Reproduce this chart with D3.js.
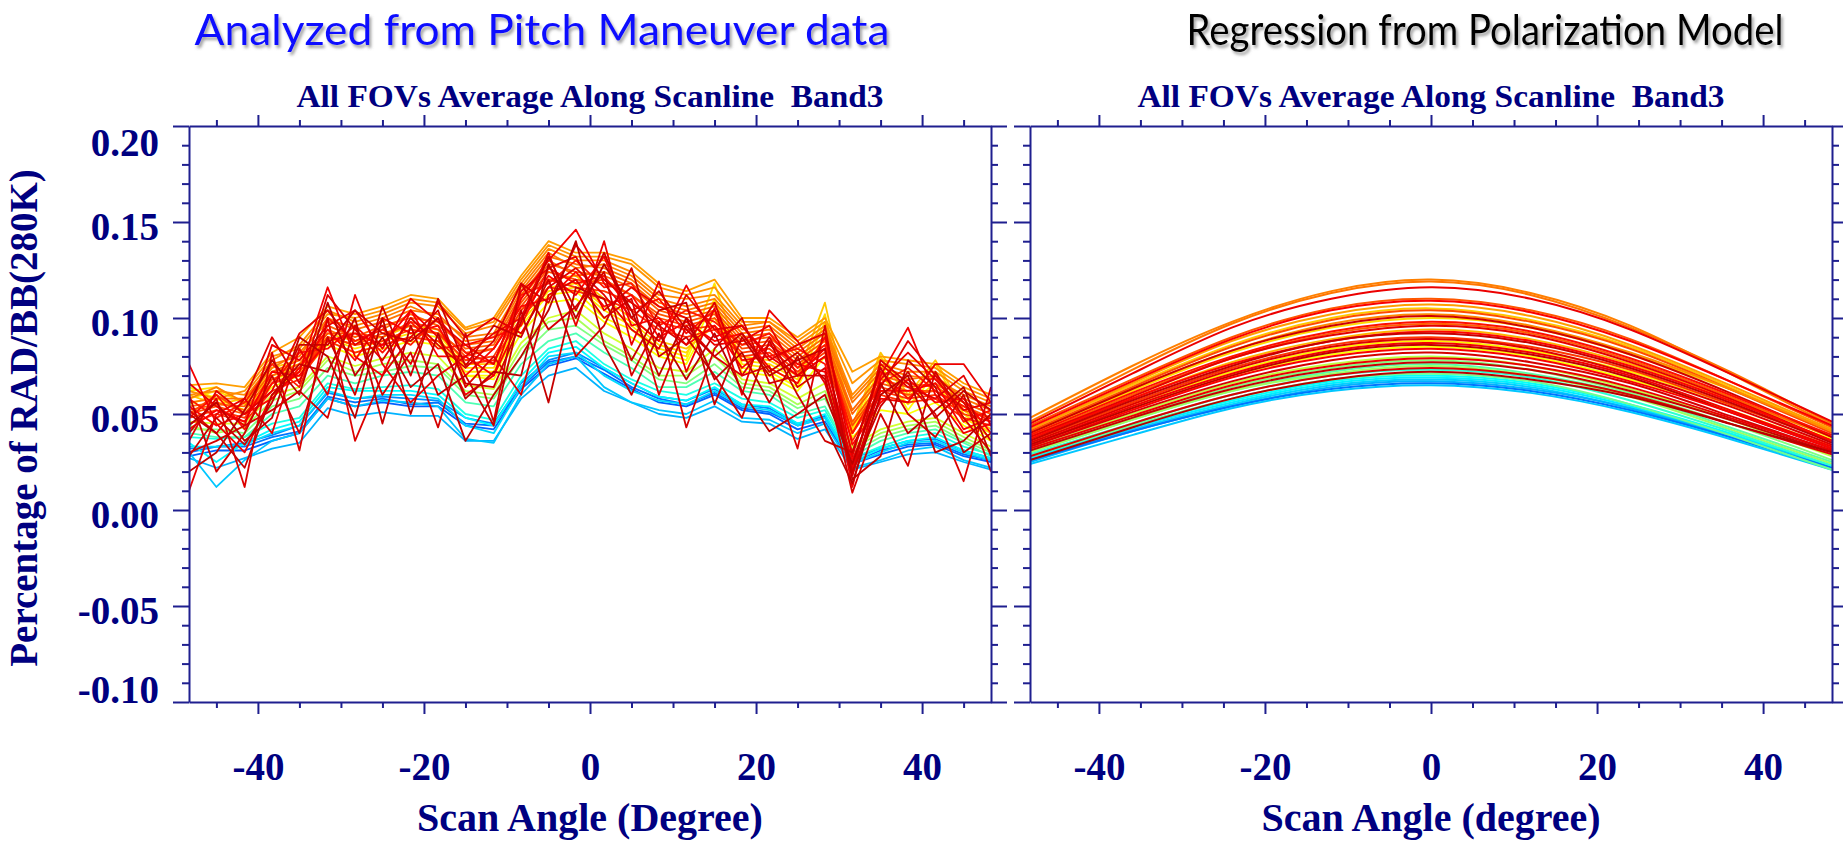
<!DOCTYPE html>
<html>
<head>
<meta charset="utf-8">
<script src="https://cdn.jsdelivr.net/npm/d3@7"></script>
<style>
  body { margin: 0; background: #fff; }
  svg text { font-family: "Liberation Serif", "DejaVu Serif", serif; font-weight: bold; fill: #000080; }
  .axis path, .axis line { stroke: #1f1f8f; stroke-width: 2; }
  .title { font-family: Lato, "Open Sans", sans-serif !important; font-weight: normal !important; }
</style>
</head>
<body>
<svg id="chart" width="1843" height="842"></svg>
<script>
// ---- data (values in units of 0.001) ----
const leftAngles = [-48.3, -45.0, -41.6, -38.3, -35.0, -31.6, -28.3, -25.0, -21.6, -18.3, -15.0, -11.6, -8.3, -5.0, -1.7,
                     1.7, 5.0, 8.3, 11.6, 15.0, 18.3, 21.6, 25.0, 28.3, 31.6, 35.0, 38.3, 41.6, 45.0, 48.3];

const leftBlueT = [0.22, 0.24, 0.26];
const leftBlue = [
  [28,31,31,36,40,58,54,56,54,54,44,42,63,75,79,71,63,56,54,60,52,50,42,46,24,29,33,34,28,25],
  [30,33,33,38,41,59,56,58,55,56,45,44,64,77,80,73,64,58,55,61,53,51,44,48,25,31,34,35,29,26],
  [32,33,35,39,44,61,58,59,58,57,48,45,66,78,82,74,66,59,57,63,55,53,45,49,27,32,36,37,31,27]
];
const leftCyanT = [0.3, 0.32, 0.34, 0.37, 0.4];
const leftCyan = [
  [27,22,27,32,35,53,49,51,49,49,36,36,58,70,74,62,56,50,48,54,46,45,37,42,21,25,29,30,25,21],
  [30,12,26,36,40,58,54,57,56,54,37,35,60,76,80,64,56,52,50,57,48,47,40,45,22,26,31,33,26,22],
  [33,33,34,40,44,62,58,60,60,58,44,40,64,80,82,70,62,57,55,62,54,52,44,48,24,30,35,36,30,26],
  [35,25,35,42,46,64,62,62,62,60,48,44,67,82,85,74,66,59,57,64,55,54,45,50,25,32,36,38,31,27],
  [38,37,38,45,48,66,63,64,65,63,50,47,70,84,88,76,68,62,60,66,58,56,48,52,27,33,38,40,33,29]
];
const leftGreenT = [0.45, 0.5, 0.54, 0.58];
const leftGreen = [
  [40,38,38,50,54,70,66,70,72,70,56,54,76,88,92,82,74,64,64,72,62,60,50,54,28,36,40,42,35,28],
  [42,42,40,54,58,74,70,72,75,74,60,58,80,94,96,86,78,68,66,76,64,62,53,58,30,38,42,44,36,30],
  [44,40,43,57,62,78,72,76,78,76,62,60,84,98,100,88,80,70,70,80,66,64,55,62,32,40,44,46,38,31],
  [46,45,45,60,64,80,75,79,82,80,65,63,87,100,104,92,84,74,72,84,68,66,58,66,33,42,46,48,40,33]
];
const leftYellowT = [0.62, 0.63, 0.65, 0.66, 0.68];
const leftYellow = [
  [55,60,50,64,70,86,80,84,88,86,70,68,92,108,110,98,90,80,76,104,72,70,62,80,38,52,50,56,44,36],
  [64,58,52,68,72,88,82,86,90,88,70,70,96,112,114,100,94,82,78,110,74,72,64,92,40,76,52,72,46,38],
  [62,64,55,70,74,90,84,88,92,90,72,72,98,114,116,104,96,84,80,118,76,74,66,98,40,70,55,66,48,40],
  [58,62,56,72,76,90,86,88,94,92,74,74,100,116,118,106,98,86,82,100,78,76,68,102,42,80,58,76,50,40],
  [60,55,58,74,78,92,88,90,96,94,76,76,104,120,122,110,100,88,84,96,80,78,70,108,44,82,60,78,52,42]
];
const leftOrangeT = [0.72, 0.73, 0.74, 0.75, 0.76, 0.77, 0.78, 0.79, 0.8, 0.82, 0.83];
const leftOrange = [
  [65,66,64,82,90,106,102,106,112,110,95,100,122,140,134,134,130,118,114,120,100,100,90,100,72,80,78,76,66,60],
  [62,58,62,80,84,102,100,104,110,108,94,98,120,138,132,132,128,116,112,116,98,98,88,98,66,78,76,74,64,58],
  [60,62,60,78,86,104,98,102,108,106,92,96,118,136,130,130,124,112,110,112,96,98,86,96,60,76,72,72,62,56],
  [58,64,56,74,82,98,96,100,106,100,90,92,116,134,126,128,122,110,106,110,94,96,84,94,58,74,70,68,60,54],
  [56,58,58,76,80,100,94,98,104,102,88,90,114,132,128,126,120,108,104,108,92,94,82,92,56,72,68,70,58,52],
  [54,56,52,70,76,94,88,94,102,96,86,88,112,130,122,124,118,106,102,106,90,92,80,90,52,70,66,64,56,50],
  [52,55,54,72,78,96,90,96,100,98,84,86,110,128,124,122,116,104,100,104,88,90,78,88,50,68,64,66,56,50],
  [50,54,50,66,72,90,86,92,96,92,82,84,108,126,118,120,112,102,98,102,86,88,76,86,46,66,62,62,54,48],
  [50,60,50,68,74,92,92,90,98,94,80,84,106,124,120,118,112,100,96,100,84,86,74,84,44,64,60,62,52,48],
  [48,52,48,66,70,90,86,88,94,92,78,80,104,120,116,114,108,98,94,96,82,84,72,82,40,62,58,60,50,46],
  [45,50,46,62,68,88,82,86,90,88,76,78,100,116,114,110,104,94,90,94,80,82,70,80,36,60,56,58,48,44]
];
const leftRedOrangeT = [0.85, 0.86, 0.87, 0.88];
const leftRedOrange = [
  [58,48,56,76,64,100,88,94,86,100,82,76,112,118,130,116,118,96,104,98,86,92,74,86,40,66,74,62,54,46],
  [48,60,42,66,82,84,96,82,98,84,86,90,96,126,118,122,104,110,92,104,78,80,84,76,30,72,58,70,46,52],
  [54,44,50,58,74,94,78,100,92,96,70,84,106,110,124,106,112,90,98,88,92,74,66,90,34,56,68,56,58,40],
  [42,52,46,72,70,88,92,86,104,80,80,70,100,122,112,132,96,100,86,96,74,86,76,72,26,62,62,66,42,48]
];
const leftRedT = [0.89, 0.9, 0.9, 0.91, 0.92, 0.92, 0.93, 0.94, 0.94, 0.95, 0.96, 0.96];
const leftRed = [
  [76,45,30,60,72,116,80,70,104,90,60,70,110,130,146,118,100,88,117,90,96,80,70,84,12,70,95,60,40,45],
  [66,54,44,86,78,96,104,84,110,98,86,76,114,126,132,104,116,106,100,86,88,96,70,80,22,68,82,68,52,56],
  [10,50,58,40,84,60,112,76,56,70,80,92,100,134,96,140,86,119,72,105,60,104,88,66,20,58,56,76,76,56],
  [36,62,50,62,92,104,86,96,76,108,90,100,92,116,126,112,94,84,112,94,96,78,86,92,28,76,64,58,70,44],
  [40,58,12,82,31,100,36,70,90,104,64,80,60,112,120,100,110,60,96,80,70,75,32,96,18,78,66,50,15,64],
  [52,40,58,90,66,112,94,78,100,86,74,88,118,108,138,120,108,96,86,108,70,90,64,74,18,64,88,70,56,36],
  [30,36,44,52,62,48,96,60,82,43,92,46,118,94,106,124,70,98,43,84,100,66,70,70,9,50,23,72,48,30],
  [60,20,40,70,40,90,60,106,70,110,75,96,90,120,80,96,126,80,90,70,48,88,60,36,30,74,50,38,60,20],
  [28,48,34,56,86,86,104,92,88,100,66,64,98,132,104,134,100,114,94,80,92,72,82,68,20,54,72,48,62,52],
  [50,40,22,60,76,72,100,45,96,60,70,44,104,56,116,110,78,104,108,55,90,70,78,84,16,28,78,64,30,40],
  [20,30,52,78,60,108,70,90,64,76,36,60,80,104,140,86,60,92,68,92,62,41,50,60,24,66,40,52,64,28],
  [44,56,36,48,90,80,48,100,50,92,58,72,70,128,100,128,104,70,100,68,82,56,80,44,14,60,70,30,36,50]
];

const rightAngles = [-48.3, -36, -24, -12, 0, 12, 24, 36, 48.3];

const rightCyanT = [0.38, 0.36, 0.33, 0.3, 0.24, 0.32];
const rightCyan = [
  [28,44,57,67,70,66,55,40,23],
  [27,43,56,66,69,65,54,39,22],
  [26,42,55,65,68,64,53,39,22],
  [25,41,54,64,67,63,53,38,22],
  [26,41,54,63,66,62,52,38,22],
  [24,39,53,62,65,61,51,37,21]
];
const rightGreenT = [0.56, 0.5, 0.46, 0.53, 0.42, 0.48];
const rightGreen = [
  [32,50,66,76,80,75,63,47,28],
  [31,48,64,74,78,73,61,45,26],
  [30,47,62,72,76,71,60,43,25],
  [30,47,62,71,75,70,59,42,24],
  [29,45,60,70,73,69,57,41,23],
  [28,44,58,68,71,67,55,39,21]
];
const rightYellowT = [0.68, 0.66, 0.7, 0.64, 0.62];
const rightYellow = [
  [42,65,86,100,105,99,85,64,41],
  [39,62,82,95,100,95,81,63,42],
  [37,58,77,89,94,89,76,58,38],
  [35,55,72,84,88,83,72,55,37],
  [34,53,70,81,85,80,68,52,33]
];
const rightOrangeT = [0.75, 0.76, 0.79, 0.72, 0.8, 0.74, 0.78, 0.82];
const rightOrange = [
  [48,75,98,114,120,113,96,71,44],
  [46,73,97,113,119,112,95,72,45],
  [44,68,90,105,110,104,89,67,43],
  [42,66,88,102,107,101,86,65,42],
  [41,64,85,99,104,98,84,63,40],
  [40,63,83,97,102,96,82,63,41],
  [38,60,79,92,97,92,78,59,38],
  [36,56,74,86,90,85,73,55,36]
];
const rightRedT = [0.9, 0.88, 0.94, 0.86, 0.91, 0.87, 0.95, 0.92, 0.89, 0.96, 0.88, 0.93, 0.9, 0.95, 0.92, 0.97];
const rightRed = [
  [45,71,95,110,116,110,94,71,46],
  [43,67,89,104,109,103,88,67,44],
  [40,63,83,96,101,95,81,61,38],
  [39,61,80,93,98,93,79,60,39],
  [38,59,79,91,96,91,77,58,36],
  [37,58,76,88,93,88,75,57,36],
  [36,57,75,88,92,87,74,56,35],
  [35,55,73,85,89,84,71,54,34],
  [34,54,71,83,87,82,70,52,33],
  [34,53,70,82,86,81,69,51,32],
  [33,52,69,80,84,79,67,51,32],
  [33,51,67,78,82,77,66,49,31],
  [32,49,65,75,79,75,64,48,31],
  [31,48,63,73,77,73,62,47,30],
  [28,45,60,70,74,70,60,45,29],
  [26,43,58,68,72,68,59,45,30]
];

// axis ticks
const xMajor = [-40, -20, 0, 20, 40];
const xMinor = [-45, -35, -30, -25, -15, -10, -5, 5, 10, 15, 25, 30, 35, 45];
const yMajor = [-0.10, -0.05, 0.00, 0.05, 0.10, 0.15, 0.20];
const yMinor = [-0.09, -0.08, -0.07, -0.06, -0.04, -0.03, -0.02, -0.01, 0.01, 0.02, 0.03, 0.04,
                0.06, 0.07, 0.08, 0.09, 0.11, 0.12, 0.13, 0.14, 0.16, 0.17, 0.18, 0.19];

// ---- drawing ----
const svg = d3.select("#chart");
const width = 802, height = 576;

const x = d3.scaleLinear().domain([-48.3, 48.3]).range([0, width]);
const y = d3.scaleLinear().domain([-0.10, 0.20]).range([height, 0]);

// jet colour map
const jet = d3.scaleLinear()
    .domain([0, 0.125, 0.375, 0.625, 0.875, 1])
    .range(["#00008f", "#0000ff", "#00ffff", "#ffff00", "#ff0000", "#a00000"]);

const defs = svg.append("defs");
defs.append("clipPath").attr("id", "plotClip")
    .append("rect").attr("width", width).attr("height", height);
defs.append("filter").attr("id", "shadow")
    .attr("x", "-5%").attr("y", "-30%").attr("width", "110%").attr("height", "170%")
    .append("feDropShadow")
    .attr("dx", 2).attr("dy", 3).attr("stdDeviation", 1.6)
    .attr("flood-color", "#666").attr("flood-opacity", 0.6);

// big titles
svg.append("text").attr("class", "title")
    .attr("x", 542).attr("y", 45)
    .attr("text-anchor", "middle")
    .attr("textLength", 695).attr("lengthAdjust", "spacingAndGlyphs")
    .attr("filter", "url(#shadow)")
    .style("font-size", "42px").style("fill", "#0a0aff")
    .text("Analyzed from Pitch Maneuver data");

svg.append("text").attr("class", "title")
    .attr("x", 1485).attr("y", 45)
    .attr("text-anchor", "middle")
    .attr("textLength", 597).attr("lengthAdjust", "spacingAndGlyphs")
    .attr("filter", "url(#shadow)")
    .style("font-size", "42px").style("fill", "#000")
    .text("Regression from Polarization Model");

function drawPanel(left, opts) {
  const g = svg.append("g").attr("transform", `translate(${left},126)`);

  // subtitle
  g.append("text")
      .attr("x", width / 2).attr("y", -19)
      .attr("text-anchor", "middle")
      .attr("textLength", 587).attr("lengthAdjust", "spacingAndGlyphs")
      .style("font-size", "32px")
      .text("All FOVs Average Along Scanline\u00a0\u00a0Band3");

  // lines
  const plot = g.append("g").attr("clip-path", "url(#plotClip)");
  const line = d3.line()
      .x((d, i) => x(opts.angles[i]))
      .y(d => y(d / 1000))
      .curve(opts.curve);
  opts.groups.forEach(grp => {
    grp.lines.forEach((vals, i) => {
      plot.append("path")
          .datum(vals)
          .attr("fill", "none")
          .attr("stroke", jet(grp.t[i]))
          .attr("stroke-width", opts.strokeWidth)
          .attr("stroke-linejoin", "round")
          .attr("d", line);
    });
  });

  // axes: bottom
  const bottom = g.append("g").attr("class", "axis").attr("transform", `translate(0,${height})`)
      .call(d3.axisBottom(x).tickValues(xMajor).tickSize(12).tickSizeOuter(0).tickFormat(d => String(d)));
  bottom.selectAll(".tick text")
      .attr("y", 78).attr("dy", null)
      .style("font-size", "39px");
  g.append("g").attr("class", "axis").attr("transform", `translate(0,${height})`)
      .call(d3.axisBottom(x).tickValues(xMinor).tickSize(6).tickFormat(""))
      .call(a => a.select(".domain").remove());

  // top
  g.append("g").attr("class", "axis")
      .call(d3.axisTop(x).tickValues(xMajor).tickSize(11).tickSizeOuter(0).tickFormat(""));
  g.append("g").attr("class", "axis")
      .call(d3.axisTop(x).tickValues(xMinor).tickSize(6).tickFormat(""))
      .call(a => a.select(".domain").remove());

  // left
  const leftAxis = g.append("g").attr("class", "axis")
      .call(d3.axisLeft(y).tickValues(yMajor).tickSize(16).tickSizeOuter(0)
          .tickFormat(opts.yLabels ? (d => d.toFixed(2)) : ""));
  if (opts.yLabels) {
    leftAxis.selectAll(".tick text")
        .attr("x", -30).attr("dy", null)
        .attr("y", d => d === 0.20 ? 29 : (d === -0.10 ? 0 : 17))
        .style("font-size", "39px");
  }
  g.append("g").attr("class", "axis")
      .call(d3.axisLeft(y).tickValues(yMinor).tickSize(7).tickFormat(""))
      .call(a => a.select(".domain").remove());

  // right
  g.append("g").attr("class", "axis").attr("transform", `translate(${width},0)`)
      .call(d3.axisRight(y).tickValues(yMajor).tickSize(16).tickSizeOuter(0).tickFormat(""));
  g.append("g").attr("class", "axis").attr("transform", `translate(${width},0)`)
      .call(d3.axisRight(y).tickValues(yMinor).tickSize(7).tickFormat(""))
      .call(a => a.select(".domain").remove());

  // x axis title
  g.append("text")
      .attr("x", width / 2).attr("y", 705)
      .attr("text-anchor", "middle")
      .style("font-size", "40px")
      .text(opts.xTitle);

  return g;
}

drawPanel(189, {
  angles: leftAngles,
  curve: d3.curveLinear,
  strokeWidth: 1.8,
  yLabels: true,
  xTitle: "Scan Angle (Degree)",
  groups: [
    { t: leftBlueT, lines: leftBlue },
    { t: leftCyanT, lines: leftCyan },
    { t: leftGreenT, lines: leftGreen },
    { t: leftYellowT, lines: leftYellow },
    { t: leftOrangeT, lines: leftOrange },
    { t: leftRedOrangeT, lines: leftRedOrange },
    { t: leftRedT, lines: leftRed }
  ]
});

drawPanel(1030, {
  angles: rightAngles,
  curve: d3.curveNatural,
  strokeWidth: 2,
  yLabels: false,
  xTitle: "Scan Angle (degree)",
  groups: [
    { t: rightCyanT, lines: rightCyan },
    { t: rightGreenT, lines: rightGreen },
    { t: rightYellowT, lines: rightYellow },
    { t: rightOrangeT, lines: rightOrange },
    { t: rightRedT, lines: rightRed }
  ]
});

// y axis title
svg.append("text")
    .attr("transform", "translate(37,418) rotate(-90)")
    .attr("text-anchor", "middle")
    .style("font-size", "39px")
    .text("Percentage of RAD/BB(280K)");
</script>
</body>
</html>
